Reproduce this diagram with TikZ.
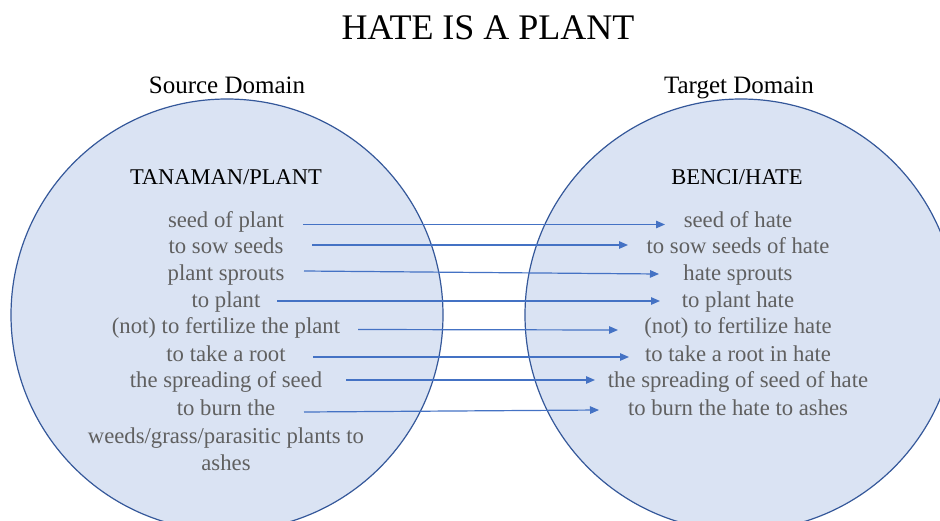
\documentclass[tikz,border=0pt]{standalone}
\usepackage{fontspec}
\setmainfont{Liberation Serif}
\usetikzlibrary{arrows.meta}
\definecolor{domfill}{HTML}{DAE3F3}
\definecolor{domline}{HTML}{35589A}
\definecolor{maparrow}{HTML}{4472C4}
\definecolor{itemtext}{HTML}{606060}
\tikzset{
  domcircle/.style={fill=domfill,draw=domline,line width=1.2pt},
  label txt/.style={inner sep=0pt,anchor=base,font=\fontsize{25}{30}\selectfont},
  head txt/.style={inner sep=0pt,anchor=base,font=\fontsize{22.5}{27}\selectfont},
  item txt/.style={inner sep=0pt,anchor=base,text=itemtext,font=\fontsize{22.7}{27}\selectfont},
  maparr/.style={draw=maparrow,line width=1.2pt,-{Triangle[length=9pt,width=7.5pt]}}
}
\begin{document}
\begin{tikzpicture}[x=1pt,y=-1pt]
\useasboundingbox (0,0) rectangle (940,520);
\clip (0,0) rectangle (940,520);

% the two domains
\filldraw[domcircle] (227,315) circle (216pt);
\filldraw[domcircle] (741,315) circle (216pt);

% title and domain labels
\node[inner sep=0pt,anchor=base,font=\fontsize{36}{40}\selectfont] (title) at (488,39) {HATE IS A PLANT};
\node[label txt] (srclab) at (227,93) {Source Domain};
\node[label txt] (tgtlab) at (739,93) {Target Domain};

% domain headings
\node[head txt] (srchead) at (226,184.5) {TANAMAN/PLANT};
\node[head txt] (tgthead) at (737,184.5) {BENCI/HATE};

% source items
\node[item txt] (l1) at (226,227) {seed of plant};
\node[item txt] (l2) at (226,253.7) {to sow seeds};
\node[item txt] (l3) at (226,280.3) {plant sprouts};
\node[item txt] (l4) at (226,307) {to plant};
\node[item txt] (l5) at (226,333.7) {(not) to fertilize the plant};
\node[item txt] (l6) at (226,361) {to take a root};
\node[item txt] (l7) at (226,387.7) {the spreading of seed};
\node[item txt] (l8) at (226,415.5) {to burn the};
\node[item txt] (l8b) at (226,443) {weeds/grass/parasitic plants to};
\node[item txt] (l8c) at (226,470) {ashes};

% target items
\node[item txt] (r1) at (738,227) {seed of hate};
\node[item txt] (r2) at (738,253.7) {to sow seeds of hate};
\node[item txt] (r3) at (738,280.3) {hate sprouts};
\node[item txt] (r4) at (738,307) {to plant hate};
\node[item txt] (r5) at (738,333.7) {(not) to fertilize hate};
\node[item txt] (r6) at (738,361) {to take a root in hate};
\node[item txt] (r7) at (738,387.7) {the spreading of seed of hate};
\node[item txt] (r8) at (738,415.5) {to burn the hate to ashes};

% mappings
\draw[maparr] ([xshift=77pt,yshift=2.5pt]l1.base) -- ([xshift=-73pt,yshift=2.5pt]r1.base);
\draw[maparr] ([xshift=86pt,yshift=8.7pt]l2.base) -- ([xshift=-110pt,yshift=8.7pt]r2.base);
\draw[maparr] ([xshift=78pt,yshift=9.3pt]l3.base) -- ([xshift=-79pt,yshift=6.3pt]r3.base);
\draw[maparr] ([xshift=51pt,yshift=6pt]l4.base) -- ([xshift=-78pt,yshift=6pt]r4.base);
\draw[maparr] ([xshift=132pt,yshift=4.2pt]l5.base) -- ([xshift=-120pt,yshift=3.7pt]r5.base);
\draw[maparr] ([xshift=87pt,yshift=4pt]l6.base) -- ([xshift=-109pt,yshift=4pt]r6.base);
\draw[maparr] ([xshift=120pt,yshift=7.7pt]l7.base) -- ([xshift=-143pt,yshift=7.7pt]r7.base);
\draw[maparr] ([xshift=78pt,yshift=3.5pt]l8.base) -- ([xshift=-139pt,yshift=5.5pt]r8.base);
\end{tikzpicture}
\end{document}
